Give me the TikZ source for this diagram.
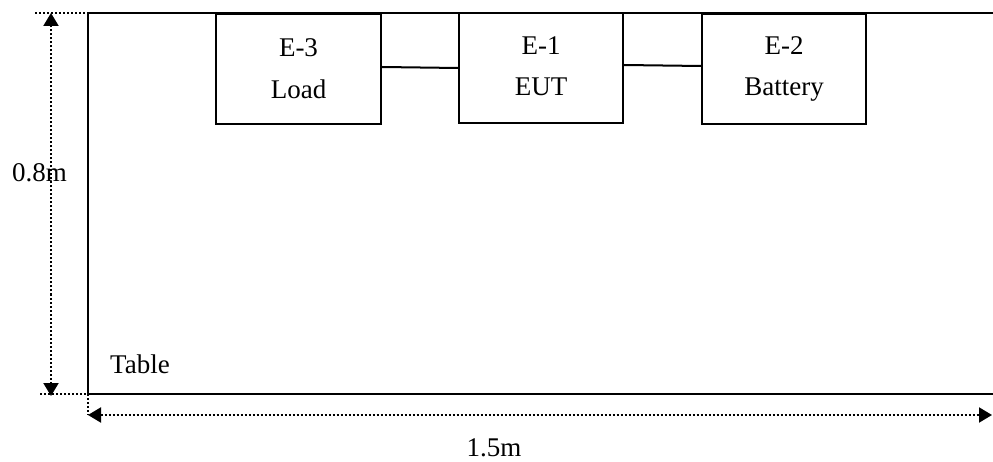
\documentclass[tikz,border=0pt]{standalone}
\usepackage{fontspec}
\setmainfont{Liberation Serif}
\usetikzlibrary{arrows.meta}
\begin{document}
\begin{tikzpicture}[x=1pt,y=-1pt,
  txt/.style={font=\fontsize{27}{27}\selectfont, inner sep=0pt},
  unit/.style={draw, line width=2pt, minimum width=165pt, minimum height=110pt, inner sep=0pt},
  solidline/.style={line width=2pt},
  dotline/.style={line width=2pt, dash pattern=on 2pt off 2pt},
  dimarrow/.style={dotline, {Triangle[length=13pt,width=15pt]}-{Triangle[length=13pt,width=15pt]}}]
\useasboundingbox (0,0) rectangle (993,462);
% table outline
\coordinate (tr) at (995,13);
\coordinate (tl) at (88,13);
\coordinate (bl) at (88,394);
\coordinate (br) at (995,394);
\draw[solidline] (tr) -- (tl) -- (bl) -- (br);
% units
\node[unit] (e3) at (298.5,69) {};
\node[unit, minimum width=164pt] (e1) at (541,68) {};
\node[unit, minimum width=164pt] (e2) at (784,69) {};
\node[txt, anchor=base] (e3a) at (298.5,57) {E-3};
\node[txt, anchor=base] (e3b) at (298.5,99) {Load};
\node[txt, anchor=base] (e1a) at (541,55) {E-1};
\node[txt, anchor=base] (e1b) at (541,96) {EUT};
\node[txt, anchor=base] (e2a) at (784,55) {E-2};
\node[txt, anchor=base] (e2b) at (784,96) {Battery};
\draw[solidline] ([yshift=2pt]e3.east) -- ([yshift=0pt]e1.west);
\draw[solidline] ([yshift=3pt]e1.east) -- ([yshift=3pt]e2.west);
% dimension lines
\coordinate (ttick) at (35,13);
\coordinate (btick) at (40,394);
\coordinate (vtop) at (51,13);
\coordinate (vbot) at (51,396);
\draw[dotline] (ttick) -- (tl);
\draw[dotline] (btick) -- (bl);
\coordinate (hl) at (88,415);
\coordinate (hr) at (992,415);
\draw[dotline] (bl) -- (hl);
\draw[dimarrow] (vbot) -- (vtop);
\draw[dimarrow] (hl) -- (hr);
\node[txt, anchor=base west] (h08) at (12,182) {0.8m};
\node[txt, anchor=base] (w15) at (494,456) {1.5m};
\node[txt, anchor=base west] (tab) at (110,373) {Table};
\end{tikzpicture}
\end{document}
